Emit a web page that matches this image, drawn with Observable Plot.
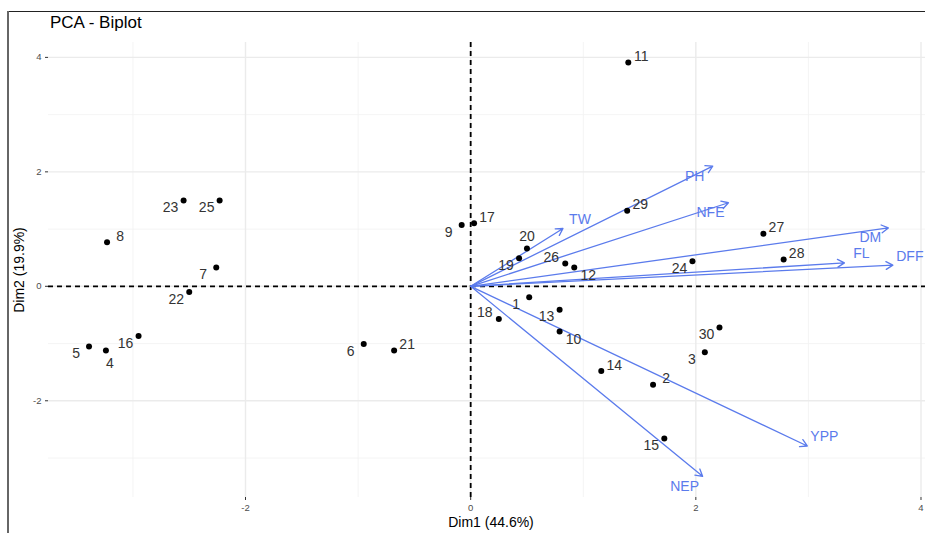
<!DOCTYPE html>
<html>
<head>
<meta charset="utf-8">
<script src="https://cdn.jsdelivr.net/npm/d3@7"></script>
<script src="https://cdn.jsdelivr.net/npm/@observablehq/plot@0.6"></script>
<style>
  html, body { margin: 0; padding: 0; background: #fff; }
  #wrap { position: relative; width: 925px; height: 533px; overflow: hidden; font-family: "Liberation Sans", Arial, sans-serif; }
  #wrap svg { position: absolute; left: 0; top: 0; }
  .ov { position: absolute; white-space: nowrap; color: #000; }
</style>
</head>
<body>
<div id="wrap"></div>
<script>
// ---- individuals (observations) ----
const indNames = ["1","2","3","4","5","6","7","8","9","10","11","12","13","14","15",
                  "16","17","18","19","20","21","22","23","24","25","26","27","28","29","30"];
const indDim1 = [0.52, 1.62, 2.08, -3.24, -3.39, -0.95, -2.26, -3.23, -0.08, 0.79, 1.40, 0.92, 0.79, 1.16, 1.72,
                 -2.95, 0.03, 0.25, 0.43, 0.50, -0.68, -2.50, -2.55, 1.97, -2.23, 0.84, 2.60, 2.78, 1.39, 2.21];
const indDim2 = [-0.19, -1.72, -1.15, -1.12, -1.05, -1.01, 0.33, 0.77, 1.07, -0.79, 3.91, 0.33, -0.41, -1.48, -2.66,
                 -0.87, 1.10, -0.57, 0.49, 0.66, -1.12, -0.10, 1.50, 0.44, 1.50, 0.40, 0.92, 0.47, 1.32, -0.72];
// side on which ggrepel put each label
const indLabelSide = ["sw","ne","sw","s","sw","sw","sw","ne","sw","se","ne","se","sw","ne","sw",
                      "sw","ne","nw","sw","n","ne","sw","sw","sw","sw","nw","ne","ne","ne","sw"];

// ---- variables (arrows) ----
const varNames = ["PH","NFE","TW","DM","FL","DFF","YPP","NEP"];
const varDim1  = [2.15, 2.29, 0.82, 3.71, 3.32, 3.75, 2.99, 2.06];
const varDim2  = [2.10, 1.46, 1.01, 1.02, 0.41, 0.37, -2.79, -3.32];
const varLabelSide = ["sw","sw","ne","sw","ne","ne","ne","sw"];

const xTicks = [-2, 0, 2, 4];
const yTicks = [-2, 0, 2, 4];
const xMinor = [-3, -1, 1, 3];
const yMinor = [-3, -1, 1, 3];

const inds = indNames.map((n, i) => ({name: n, x: indDim1[i], y: indDim2[i], side: indLabelSide[i]}));
const vars = varNames.map((n, i) => ({name: n, x: varDim1[i], y: varDim2[i], side: varLabelSide[i]}));

const indOffsets = {ne: [13, -6], sw: [-13, 7], nw: [-14, -6], se: [14, 8], n: [0, -12], s: [4, 13]};
const varOffsets = {ne: [17, -9], sw: [-18, 10]};

const blue = "#5b7bec";
const txt = "#333333";
const fmt = d => String(d);

const marks = [
  Plot.gridX(xMinor, {stroke: "#f1f1f1", strokeOpacity: 1, strokeWidth: 0.8}),
  Plot.gridY(yMinor, {stroke: "#f1f1f1", strokeOpacity: 1, strokeWidth: 0.8}),
  Plot.gridX(xTicks, {stroke: "#ebebeb", strokeOpacity: 1, strokeWidth: 1.4}),
  Plot.gridY(yTicks, {stroke: "#ebebeb", strokeOpacity: 1, strokeWidth: 1.4}),
  Plot.axisX(xTicks, {tickSize: 3, tickPadding: 4, fontSize: 9.5, color: "#4d4d4d", stroke: "#333", label: null, tickFormat: fmt}),
  Plot.axisY(yTicks, {tickSize: 3, tickPadding: 4, fontSize: 9.5, color: "#4d4d4d", stroke: "#333", label: null, tickFormat: fmt}),
  Plot.ruleX([0], {stroke: "#000", strokeWidth: 1.8, strokeDasharray: "5,4"}),
  Plot.ruleY([0], {stroke: "#000", strokeWidth: 1.8, strokeDasharray: "5,4"}),
  Plot.arrow(vars, {x1: 0, y1: 0, x2: "x", y2: "y", stroke: blue, strokeWidth: 1.3, headLength: 9, headAngle: 60}),
  Plot.dot(inds, {x: "x", y: "y", r: 3, fill: "#000", stroke: null})
];

for (const [side, [dx, dy]] of Object.entries(indOffsets)) {
  marks.push(Plot.text(inds.filter(d => d.side === side), {
    x: "x", y: "y", text: "name", dx, dy, fontSize: 14, fill: txt
  }));
}
for (const [side, [dx, dy]] of Object.entries(varOffsets)) {
  marks.push(Plot.text(vars.filter(d => d.side === side), {
    x: "x", y: "y", text: "name", dx, dy, fontSize: 14, fill: blue
  }));
}

const chart = Plot.plot({
  width: 925,
  height: 533,
  marginLeft: 48,
  marginRight: 0,
  marginTop: 42,
  marginBottom: 36,
  x: {domain: [-3.75, 4.04]},
  y: {domain: [-3.69, 4.26]},
  style: {fontFamily: "'Liberation Sans', Arial, sans-serif", background: "white", overflow: "visible"},
  marks
});

const wrap = document.getElementById("wrap");
wrap.appendChild(chart);

function ov(html, css) {
  const d = document.createElement("div");
  d.className = "ov";
  d.innerHTML = html;
  Object.assign(d.style, css);
  wrap.appendChild(d);
  return d;
}
// frame lines of the screenshot
ov("", {left: "8px", top: "11px", width: "917px", height: "0", borderTop: "1.5px solid #222"});
ov("", {left: "7px", top: "11px", width: "0", height: "522px", borderLeft: "2px solid #666"});
// title
ov("PCA - Biplot", {left: "50px", top: "13px", fontSize: "17px", color: "#000"});
// axis titles
ov("Dim1 (44.6%)", {left: "491px", top: "515px", fontSize: "14px", lineHeight: "14px", transform: "translateX(-50%)", color: "#000"});
ov("Dim2 (19.9%)", {left: "19px", top: "270px", fontSize: "14px", lineHeight: "14px", transform: "translate(-50%,-50%) rotate(-90deg)", color: "#000"});
</script>
</body>
</html>
